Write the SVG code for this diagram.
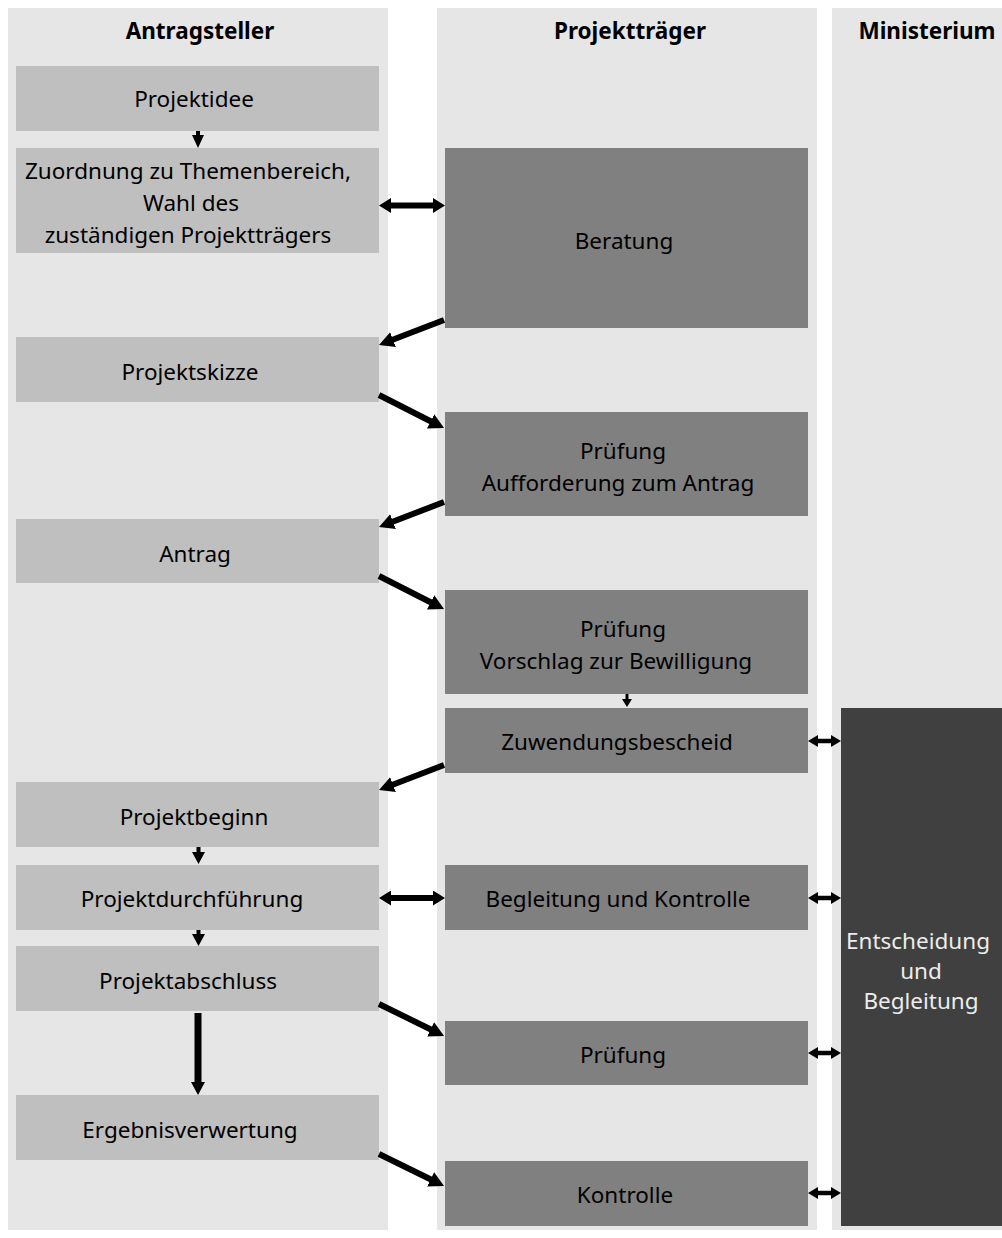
<svg xmlns="http://www.w3.org/2000/svg" width="1002" height="1238" viewBox="0 0 1002 1238">
<style>
.lane{fill:#e6e6e6}
.a{fill:#bfbfbf}
.p{fill:#808080}
.m{fill:#404040}
text{font-family:"Noto Sans","Open Sans","DejaVu Sans",sans-serif;font-size:22.5px;fill:#000;text-anchor:middle}
.h{font-weight:bold;font-size:22.5px}
.w{fill:#ececec}
.c{stroke:#000;fill:none}
</style>
<defs>
<marker id="ah" viewBox="0 0 15 16" markerWidth="15" markerHeight="16" refX="6" refY="8" orient="auto" markerUnits="userSpaceOnUse"><path d="M0,0 L15,8 L0,16 z" fill="#000"/></marker>
<marker id="dh" viewBox="0 0 12 15" markerWidth="12" markerHeight="15" refX="4" refY="7.5" orient="auto-start-reverse" markerUnits="userSpaceOnUse"><path d="M0,0 L12,7.5 L0,15 z" fill="#000"/></marker>
<marker id="sh" viewBox="0 0 10 12" markerWidth="10" markerHeight="12" refX="3" refY="6" orient="auto-start-reverse" markerUnits="userSpaceOnUse"><path d="M0,0 L10,6 L0,12 z" fill="#000"/></marker>
</defs>
<rect width="1002" height="1238" fill="#fff"/>
<g id="lanes">
<rect class="lane" x="8" y="8" width="380" height="1222"/>
<rect class="lane" x="437" y="8" width="380" height="1222"/>
<rect class="lane" x="832" y="8" width="170" height="1222"/>
<text class="h" x="200" y="39">Antragsteller</text>
<text class="h" x="630" y="39">Projektträger</text>
<text class="h" x="927" y="39">Ministerium</text>
</g>
<g id="n-projektidee"><rect class="a" x="16" y="66" width="363" height="65"/><text x="194" y="107">Projektidee</text></g>
<g id="n-zuordnung"><rect class="a" x="16" y="148" width="363" height="105"/><text x="188" y="179">Zuordnung zu Themenbereich,</text><text x="191" y="211">Wahl des</text><text x="188" y="243">zuständigen Projektträgers</text></g>
<g id="n-projektskizze"><rect class="a" x="16" y="337" width="363" height="65"/><text x="190" y="380">Projektskizze</text></g>
<g id="n-antrag"><rect class="a" x="16" y="519" width="363" height="64"/><text x="195" y="562">Antrag</text></g>
<g id="n-projektbeginn"><rect class="a" x="16" y="782" width="363" height="65"/><text x="194" y="825">Projektbeginn</text></g>
<g id="n-projektdurchfuehrung"><rect class="a" x="16" y="865" width="363" height="65"/><text x="192" y="907">Projektdurchführung</text></g>
<g id="n-projektabschluss"><rect class="a" x="16" y="946" width="363" height="65"/><text x="188" y="989">Projektabschluss</text></g>
<g id="n-ergebnisverwertung"><rect class="a" x="16" y="1095" width="363" height="65"/><text x="190" y="1138">Ergebnisverwertung</text></g>
<g id="n-beratung"><rect class="p" x="445" y="148" width="363" height="180"/><text x="624" y="249">Beratung</text></g>
<g id="n-pruefung1"><rect class="p" x="445" y="412" width="363" height="104"/><text x="623" y="459">Prüfung</text><text x="618" y="491">Aufforderung zum Antrag</text></g>
<g id="n-pruefung2"><rect class="p" x="445" y="590" width="363" height="104"/><text x="623" y="637">Prüfung</text><text x="616" y="669">Vorschlag zur Bewilligung</text></g>
<g id="n-zuwendungsbescheid"><rect class="p" x="445" y="708" width="363" height="65"/><text x="617" y="750">Zuwendungsbescheid</text></g>
<g id="n-begleitung"><rect class="p" x="445" y="865" width="363" height="65"/><text x="618" y="907">Begleitung und Kontrolle</text></g>
<g id="n-pruefung3"><rect class="p" x="445" y="1021" width="363" height="64"/><text x="623" y="1063">Prüfung</text></g>
<g id="n-kontrolle"><rect class="p" x="445" y="1161" width="363" height="65"/><text x="625" y="1203">Kontrolle</text></g>
<g id="n-entscheidung"><rect class="m" x="841" y="708" width="161" height="518"/><text class="w" x="918" y="949">Entscheidung</text><text class="w" x="921" y="979">und</text><text class="w" x="921" y="1009">Begleitung</text></g>
<g id="connectors">
<polygon points="196,131 200,131 200,135 204,135 198,148 192,135 196,135"/>
<line class="c" stroke-width="6" x1="387" y1="205.5" x2="437" y2="205.5" marker-start="url(#dh)" marker-end="url(#dh)"/>
<line class="c" stroke-width="6" x1="444" y1="320" x2="387.4" y2="341.8" marker-end="url(#ah)"/>
<line class="c" stroke-width="6" x1="379" y1="395" x2="436" y2="424" marker-end="url(#ah)"/>
<line class="c" stroke-width="6" x1="444" y1="502" x2="387.4" y2="523.8" marker-end="url(#ah)"/>
<line class="c" stroke-width="6" x1="379" y1="576" x2="436" y2="605" marker-end="url(#ah)"/>
<polygon points="625.5,694 628.5,694 628.5,699 632,699 627,707 622,699 625.5,699"/>
<line class="c" stroke-width="6" x1="444" y1="765" x2="387.4" y2="786.8" marker-end="url(#ah)"/>
<polygon points="196.5,847 200.5,847 200.5,852 205,852 198.5,864 192,852 196.5,852"/>
<line class="c" stroke-width="6" x1="387" y1="898" x2="437" y2="898" marker-start="url(#dh)" marker-end="url(#dh)"/>
<polygon points="196.5,930 200.5,930 200.5,934 205,934 198.5,946 192,934 196.5,934"/>
<polygon points="194.5,1013 201.5,1013 201.5,1082 205,1082 198,1095 191,1082 194.5,1082"/>
<line class="c" stroke-width="6" x1="379" y1="1004" x2="436" y2="1032" marker-end="url(#ah)"/>
<line class="c" stroke-width="6" x1="379" y1="1154" x2="436" y2="1182" marker-end="url(#ah)"/>
<line class="c" stroke-width="4.5" x1="815" y1="741" x2="834" y2="741" marker-start="url(#sh)" marker-end="url(#sh)"/>
<line class="c" stroke-width="4.5" x1="815" y1="898" x2="834" y2="898" marker-start="url(#sh)" marker-end="url(#sh)"/>
<line class="c" stroke-width="4.5" x1="815" y1="1053" x2="834" y2="1053" marker-start="url(#sh)" marker-end="url(#sh)"/>
<line class="c" stroke-width="4.5" x1="815" y1="1193" x2="834" y2="1193" marker-start="url(#sh)" marker-end="url(#sh)"/>
</g>
</svg>
